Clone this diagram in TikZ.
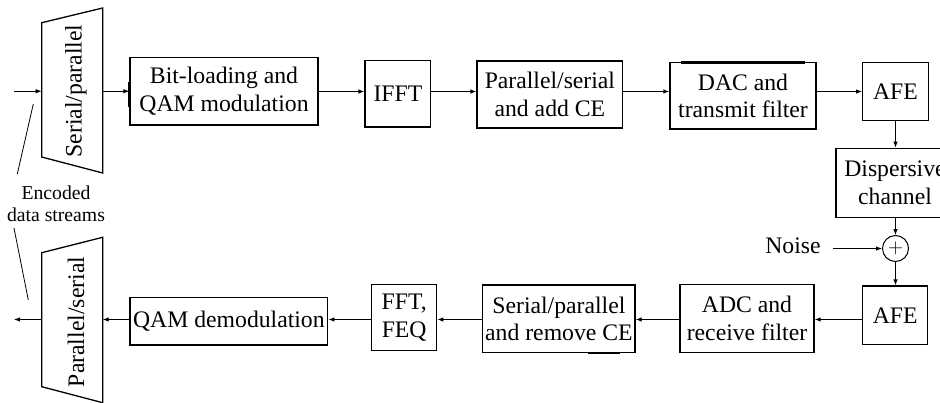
\documentclass[tikz,border=0pt]{standalone}
\usepackage{fontspec}
\setmainfont{Liberation Serif}
\usetikzlibrary{arrows.meta}
\begin{document}
\begin{tikzpicture}[x=1pt,y=-1pt,
  blk/.style={draw, line width=1.3pt, inner sep=0pt, align=center,
    font=\fontsize{23.7}{27.5}\selectfont},
  lbl/.style={inner sep=0pt, font=\fontsize{23.7}{27.5}\selectfont},
  trap/.style={draw, line width=1.3pt, line join=miter},
  flow/.style={draw, line width=0.9pt, -{Latex[length=6pt,width=4.5pt]}},
  lead/.style={draw, line width=0.8pt},
  bar/.style={draw, line width=3pt},
]
\clip (0,0) rectangle (940,402);

% row heights of the horizontal connectors
\coordinate (row1) at (0,91.5);
\coordinate (row2) at (0,319.5);

% ---- transmitter row ----
\draw[trap] (41.7,22.7) -- (102.7,8) -- (102.7,173) -- (41.7,157) -- cycle;
\node[lbl, rotate=90] (sptext) at (76,91) {Serial/parallel};
\coordinate (sp-in) at (41.7,91.2);
\coordinate (sp-out) at (102.7,91.2);
\coordinate (tx-src) at (14,91.2);

\node[blk, minimum width=188pt, minimum height=67.7pt] (bl) at (224,91.2)
  {Bit-loading and\\QAM modulation};
\node[blk, minimum width=65.7pt, minimum height=66.3pt] (ifft) at (397.9,93.9) {IFFT};
\node[blk, minimum width=145.7pt, minimum height=67pt] (psce) at (549.9,94.5)
  {Parallel/serial\\and add CE};
\node[blk, minimum width=146pt, minimum height=66.3pt] (dac) at (743,95.9)
  {DAC and\\transmit filter};
\node[blk, minimum width=65.6pt, minimum height=58pt] (afe1) at (895.5,91.7) {AFE};

% ---- channel ----
\node[blk, minimum width=118.3pt, minimum height=69pt] (disp) at (895,182.8)
  {Dispersive\\channel};
\node[draw, line width=1pt, circle, minimum size=26pt, inner sep=0pt,
  font=\fontsize{20}{20}\selectfont] (adder) at (895.5,248.5) {$+$};
\node[lbl] (noise) at (793,246) {Noise};
\coordinate (noise-src) at (833,248.5);

% ---- receiver row ----
\node[blk, minimum width=65pt, minimum height=58.3pt] (afe2) at (895.2,315.2) {AFE};
\node[blk, minimum width=134pt, minimum height=68pt] (adc) at (747,318.3)
  {ADC and\\receive filter};
\node[blk, minimum width=152.3pt, minimum height=67.7pt] (sprc) at (558.9,318.9)
  {Serial/parallel\\and remove CE};
\node[blk, minimum width=65pt, minimum height=66.4pt] (fft) at (404.2,317.5)
  {FFT,\\FEQ};
\node[blk, minimum width=197.7pt, minimum height=47.3pt] (qam) at (228.9,321.4)
  {QAM demodulation};

\draw[trap] (41.7,252.7) -- (102.7,237.3) -- (102.7,402.7) -- (41.7,386.7) -- cycle;
\node[lbl, rotate=90] (pstext) at (76,322) {Parallel/serial};
\coordinate (ps-in) at (102.7,319.5);
\coordinate (ps-out) at (41.7,319.5);
\coordinate (rx-sink) at (14,319.5);

% ---- data stream label ----
\node[inner sep=0pt, align=center, font=\fontsize{19.7}{21.7}\selectfont] (enc)
  at (56,204) {Encoded\\data streams};
\coordinate (lead1a) at (33.3,104);
\coordinate (lead1b) at (17.3,174);
\coordinate (lead2a) at (14,228);
\coordinate (lead2b) at (28.3,300);

% ---- thick edge marks ----
\draw[bar] (bl.west |- 0,81.7) -- (bl.west |- 0,106.7);
\draw[bar] ([xshift=12pt]dac.north west) -- ([xshift=136pt]dac.north west);
\draw[bar, line width=2.2pt] (588,352.7) -- (620,352.7);

% ---- connectors ----
\draw[flow] (tx-src) -- (sp-in);
\draw[flow] (sp-out) -- (bl.west);
\draw[flow] (bl.east |- row1) -- (ifft.west |- row1);
\draw[flow] (ifft.east |- row1) -- (psce.west |- row1);
\draw[flow] (psce.east |- row1) -- (dac.west |- row1);
\draw[flow] (dac.east |- row1) -- (afe1.west |- row1);
\draw[flow] (afe1.south) -- (afe1.south |- disp.north);
\draw[flow] (disp.south -| adder) -- (adder.north);
\draw[flow] (noise-src) -- (adder.west);
\draw[flow] (adder.south) -- (adder.south |- afe2.north);
\draw[flow] (afe2.west |- row2) -- (adc.east |- row2);
\draw[flow] (adc.west |- row2) -- (sprc.east |- row2);
\draw[flow] (sprc.west |- row2) -- (fft.east |- row2);
\draw[flow] (fft.west |- row2) -- (qam.east |- row2);
\draw[flow] (qam.west |- row2) -- (ps-in);
\draw[flow] (ps-out) -- (rx-sink);
\draw[lead] (lead1b) -- (lead1a);
\draw[lead] (lead2a) -- (lead2b);
\end{tikzpicture}
\end{document}
